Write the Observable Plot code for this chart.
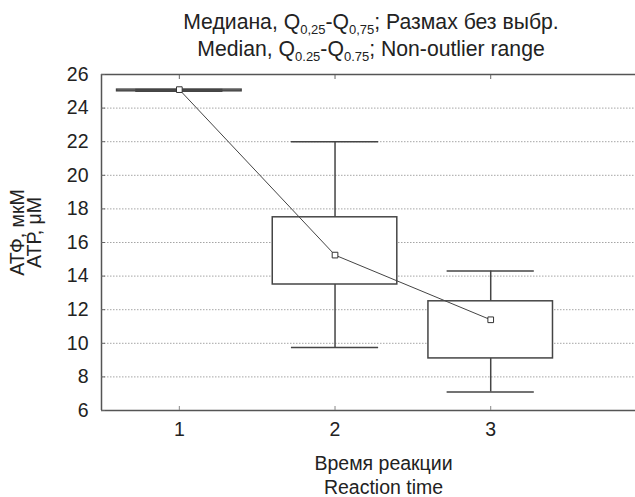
<!DOCTYPE html>
<html>
<head>
<meta charset="utf-8">
<script src="https://cdn.jsdelivr.net/npm/d3@7"></script>
<script src="https://cdn.jsdelivr.net/npm/@observablehq/plot@0.6"></script>
<style>
  html, body { margin: 0; padding: 0; background: #fff; }
  #wrap { width: 635px; height: 497px; position: relative; overflow: hidden; font-family: "Liberation Sans", Arial, sans-serif; color: #222; }
  #title { position: absolute; left: 105px; width: 532px; top: 8px; text-align: center; font-size: 21.2px; line-height: 27px; white-space: nowrap; }
  #title sub { font-size: 13px; line-height: 0; vertical-align: baseline; position: relative; top: 5px; }
  #chart { position: absolute; left: 0; top: 62px; }
</style>
</head>
<body>
<div id="wrap">
  <div id="title"></div>
  <div id="chart"></div>
</div>
<script>
// ---- data ----
const groups      = [1, 2, 3];
const whiskerLow  = [25.0, 9.75, 7.1];
const quart1      = [25.0, 13.5, 9.1];
const median      = [25.1, 15.25, 11.4];
const quart3      = [25.1, 17.5, 12.5];
const whiskerHigh = [25.1, 22.0, 14.3];

const xTicks  = [1, 2, 3];
const yTicks  = [6, 8, 10, 12, 14, 16, 18, 20, 22, 24, 26];
const xDomain = [0.5, 3.93];
const yDomain = [6, 26];

const titleRu = ["Медиана, Q", "0,25", "-Q", "0,75", "; Размах без выбр."];
const titleEn = ["Median, Q", "0.25", "-Q", "0.75", "; Non-outlier range"];
const xLabelLines = ["Время реакции", "Reaction time"];
const yLabelLines = ["АТФ, мкМ", "АТР, μM"];

// ---- title (with subscripts) ----
function titleHtml(parts) {
  return parts.map((p, i) => i % 2 === 1 ? `<sub>${p}</sub>` : p).join("");
}
document.getElementById("title").innerHTML = titleHtml(titleRu) + "<br>" + titleHtml(titleEn);

// ---- chart ----
const data = groups.map((g, i) => ({
  g, lo: whiskerLow[i], q1: quart1[i], med: median[i], q3: quart3[i], hi: whiskerHigh[i]
}));
const gridValues = yTicks.filter(v => v > yDomain[0] && v < yDomain[1]);
const boxHalf = 0.4, capHalf = 0.28;
const ink = "#454545";
const FONT = '"Liberation Sans", Arial, sans-serif';
const FS = 19.5;

const chart = Plot.plot({
  width: 635,
  height: 435,
  marginLeft: 101,
  marginRight: 0,
  marginTop: 12,
  marginBottom: 87,
  style: { fontFamily: FONT, fontSize: FS + "px", color: "#222", background: "transparent" },
  x: { domain: xDomain },
  y: { domain: yDomain },
  marks: [
    Plot.ruleY(gridValues, { stroke: "#a5a5a5", strokeDasharray: "1.5,1.5", strokeWidth: 1 }),
    Plot.ruleX(data, { x: "g", y1: "lo", y2: "hi", stroke: ink, strokeWidth: 1.5 }),
    Plot.rect(data, { x1: d => d.g - boxHalf, x2: d => d.g + boxHalf, y1: "q1", y2: "q3", fill: "white", stroke: ink, strokeWidth: 1.5 }),
    Plot.ruleY(data, { y: "lo", x1: d => d.g - capHalf, x2: d => d.g + capHalf, stroke: ink, strokeWidth: 1.5 }),
    Plot.ruleY(data, { y: "hi", x1: d => d.g - capHalf, x2: d => d.g + capHalf, stroke: ink, strokeWidth: 1.5 }),
    Plot.line(data, { x: "g", y: "med", stroke: "#444", strokeWidth: 1 }),
    Plot.dot(data, { x: "g", y: "med", symbol: "square", r: 3.2, fill: "white", stroke: "#333", strokeWidth: 1 }),
    // frame (left, top, bottom)
    Plot.ruleX([xDomain[0]], { stroke: "#555", strokeWidth: 1.5 }),
    Plot.ruleY(yDomain, { stroke: "#555", strokeWidth: 1.5 }),
    // axes
    Plot.axisY(yTicks, { anchor: "left", tickSize: -4, tickPadding: 17, stroke: "#666", fill: "#222", label: null, fontSize: FS, tickFormat: d3.format("d") }),
    Plot.axisX(xTicks, { anchor: "bottom", tickSize: -4, tickPadding: 15.5, stroke: "#888", fill: "#222", label: null, fontSize: FS, tickFormat: d3.format("d") }),
    Plot.axisX(xTicks, { anchor: "top", tickSize: -4, tickFormat: () => "", stroke: "#666", label: null }),
    // axis titles
    Plot.text([xLabelLines.join("\n")], { text: d => d, frameAnchor: "bottom", dx: 15, dy: 42.8, lineAnchor: "top", lineHeight: 1.22, fontSize: FS, fill: "#222" }),
    Plot.text([yLabelLines.join("\n")], { text: d => d, frameAnchor: "left", rotate: -90, dx: -89.8, dy: -10, lineAnchor: "top", lineHeight: 0.87, fontSize: FS, fill: "#222", textAnchor: "middle" })
  ]
});
document.getElementById("chart").appendChild(chart);
</script>
</body>
</html>
